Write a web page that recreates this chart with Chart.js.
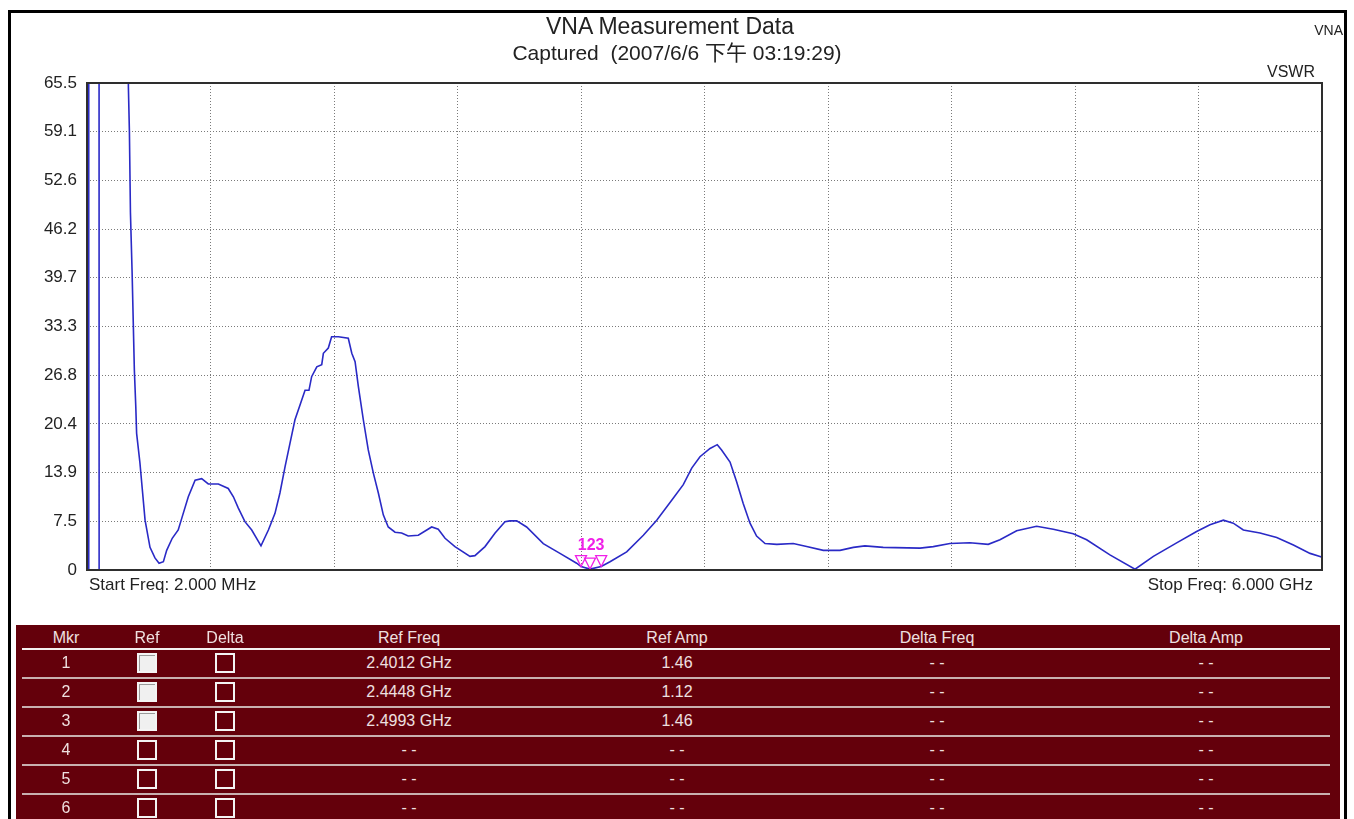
<!DOCTYPE html>
<html>
<head>
<meta charset="utf-8">
<script src="https://cdn.jsdelivr.net/npm/chart.js@4.4.1/dist/chart.umd.min.js"></script>
<style>
  html, body { margin: 0; padding: 0; background: #fff; width: 1354px; height: 819px; overflow: hidden; }
  body { position: relative; font-family: "Liberation Sans", Arial, "Noto Sans CJK TC", sans-serif; color: #222; }
  .abs { position: absolute; white-space: pre; line-height: 1; }
  #frame { position: absolute; left: 8px; top: 10px; width: 1333px; height: 830px; border: 3px solid #000; }
  #chartBox { position: absolute; left: 0; top: 0; width: 1354px; height: 600px; }
  #table { position: absolute; left: 16px; top: 625px; width: 1324px; height: 200px; background: #64000b; }
  .cell { position: absolute; color: #efe0e0; font-size: 16px; line-height: 1; transform: translate(-50%, -50%); white-space: pre; }
  .rule { position: absolute; left: 6px; width: 1308px; }
  .box { position: absolute; width: 16px; height: 16px; border: 2px solid #f4f4f4; transform: translate(-50%, -50%); }
  .box.on { background: #f0f0f0; box-shadow: inset 1px 1px 0 #9a9a9a; }
</style>
</head>
<body>
<div id="frame"></div>
<div id="chartBox"><canvas id="vnaChart" width="1354" height="600"></canvas></div>

<div class="abs" style="left:0;width:1340px;top:15px;text-align:center;font-size:23px;">VNA Measurement Data</div>
<div class="abs" style="left:0;width:1354px;top:42px;text-align:center;font-size:21px;">Captured  (2007/6/6 下午 03:19:29)</div>
<div class="abs" style="left:1243px;width:100px;top:23px;text-align:right;font-size:14px;">VNA</div>
<div class="abs" style="left:1215px;width:100px;top:64px;text-align:right;font-size:16px;">VSWR</div>
<div class="abs" style="left:89px;top:576px;font-size:17px;">Start Freq: 2.000 MHz</div>
<div class="abs" style="left:1013px;width:300px;top:576px;text-align:right;font-size:17px;">Stop Freq: 6.000 GHz</div>

<div id="table"></div>

<script>
// trace, frequency in GHz
const freqGHz = [
    0.002, 0.0095, 0.0105, 0.060, 0.061, 0.130, 0.200, 0.203, 0.208, 0.213, 0.221,
    0.227, 0.232, 0.239, 0.243, 0.259, 0.284, 0.308, 0.332, 0.352, 0.373,
    0.389, 0.416, 0.445, 0.465, 0.494, 0.527, 0.559, 0.591, 0.640, 0.688,
    0.713, 0.737, 0.769, 0.802, 0.847, 0.883, 0.915, 0.939, 0.964, 0.988,
    1.012, 1.037, 1.061, 1.080, 1.093, 1.118, 1.142, 1.150, 1.174, 1.190,
    1.223, 1.271, 1.288, 1.304, 1.320, 1.344, 1.368, 1.393, 1.417, 1.441,
    1.465, 1.498, 1.530, 1.562, 1.611, 1.676, 1.708, 1.741, 1.789, 1.862,
    1.886, 1.935, 1.984, 2.032, 2.056, 2.089, 2.137, 2.218, 2.299, 2.380,
    2.4012, 2.4448, 2.4993, 2.542, 2.623, 2.704, 2.769, 2.849, 2.898, 2.939,
    2.979, 3.028, 3.063, 3.084, 3.125, 3.157, 3.189, 3.222, 3.254, 3.295,
    3.352, 3.432, 3.497, 3.578, 3.659, 3.724, 3.780, 3.869, 4.048, 4.112,
    4.193, 4.290, 4.379, 4.436, 4.517, 4.614, 4.695, 4.792, 4.857, 4.970,
    5.092, 5.181, 5.294, 5.391, 5.456, 5.521, 5.569, 5.618, 5.699, 5.780,
    5.861, 5.942, 5.990, 6.000
];
const vswr = [
    -20, -20, 200, 200, -20, null, 200, 65.0, 59.0, 48.3, 40.5,
    33.4, 27.5, 22.6, 19.1, 15.2, 7.6, 4.0, 2.6, 1.9, 2.1,
    3.6, 5.2, 6.3, 8.1, 10.7, 12.9, 13.1, 12.4, 12.4, 11.8,
    10.7, 9.2, 7.4, 6.3, 4.2, 6.3, 8.5, 11.2, 14.7, 17.8,
    20.9, 22.9, 24.8, 24.8, 26.6, 27.9, 28.2, 29.7, 30.4, 31.9,
    31.9, 31.7, 29.7, 28.6, 25.3, 20.9, 16.9, 13.8, 11.2, 8.3,
    6.7, 6.0, 5.9, 5.5, 5.6, 6.7, 6.4, 5.2, 4.1, 2.8,
    2.9, 4.1, 5.9, 7.4, 7.5, 7.5, 6.7, 4.5, 3.2, 1.9,
    1.46, 1.12, 1.46, 2.1, 3.4, 5.6, 7.6, 10.5, 12.3, 14.5,
    16.0, 17.1, 17.6, 16.9, 15.3, 12.7, 9.8, 7.2, 5.5, 4.5,
    4.4, 4.5, 4.1, 3.6, 3.6, 4.0, 4.2, 4.0, 3.9, 4.1,
    4.5, 4.6, 4.4, 5.0, 6.2, 6.8, 6.4, 5.8, 5.0, 3.0,
    1.1, 2.8, 4.6, 6.1, 7.0, 7.6, 7.2, 6.3, 5.9, 5.3,
    4.3, 3.2, 2.8, 2.7
];

const yTickLabels = ["0", "7.5", "13.9", "20.4", "26.8", "33.3", "39.7", "46.2", "52.6", "59.1", "65.5"];
const yMin = 1.0, yMax = 65.5;
const xStart = 0.002, xStop = 6.0;

// marker table
const mkrNums = ["1", "2", "3", "4", "5", "6"];
const refOn = [true, true, true, false, false, false];
const refFreq = ["2.4012 GHz", "2.4448 GHz", "2.4993 GHz", "- -", "- -", "- -"];
const refAmp = ["1.46", "1.12", "1.46", "- -", "- -", "- -"];
const deltaFreq = ["- -", "- -", "- -", "- -", "- -", "- -"];
const deltaAmp = ["- -", "- -", "- -", "- -", "- -", "- -"];
const markerFreqGHz = [2.4012, 2.4448, 2.4993];
const markerAmp = [1.46, 1.12, 1.46];
const headers = ["Mkr", "Ref", "Delta", "Ref Freq", "Ref Amp", "Delta Freq", "Delta Amp"];

const points = freqGHz.map((f, i) => ({ x: f, y: vswr[i] }));

const evenTicks = (lo, hi) => (scale) => {
    scale.ticks = [];
    for (let k = 0; k <= 10; k++) scale.ticks.push({ value: lo + (hi - lo) * k / 10 });
};

const framePlugin = {
    id: "frame",
    afterDatasetsDraw(chart) {
        const { ctx, chartArea: a, scales } = chart;
        ctx.save();
        // markers
        ctx.strokeStyle = "#f020e8";
        ctx.fillStyle = "#f020e8";
        ctx.lineWidth = 1.3;
        const pys = markerAmp.map((v) => scales.y.getPixelForValue(v));
        const pxs = markerFreqGHz.map((f) => scales.x.getPixelForValue(f));
        pxs.forEach((px, i) => {
            const py = pys[i];
            ctx.beginPath();
            ctx.moveTo(px - 5.5, py - 11);
            ctx.lineTo(px + 5.5, py - 11);
            ctx.lineTo(px, py);
            ctx.closePath();
            ctx.stroke();
        });
        ctx.font = "bold 16px 'Liberation Sans', Arial, sans-serif";
        ctx.textAlign = "center";
        ctx.fillText(mkrNums.slice(0, markerFreqGHz.length).join(""),
            (pxs[0] + pxs[pxs.length - 1]) / 2, Math.min(...pys) - 17);
        // plot frame
        ctx.strokeStyle = "#2e2e2e";
        ctx.lineWidth = 2;
        ctx.strokeRect(a.left, a.top, a.right - a.left, a.bottom - a.top);
        ctx.restore();
    },
};

new Chart(document.getElementById("vnaChart"), {
    type: "line",
    data: {
        datasets: [
            {
                data: points,
                borderColor: "#2a2ac6",
                borderWidth: 1.6,
                pointRadius: 0,
                tension: 0,
                spanGaps: false,
                clip: 0,
            },
        ],
    },
    options: {
        responsive: false,
        animation: false,
        devicePixelRatio: 1,
        layout: { padding: { top: 83, right: 32, bottom: 30, left: 0 } },
        plugins: { legend: { display: false }, tooltip: { enabled: false } },
        scales: {
            x: {
                type: "linear",
                min: xStart,
                max: xStop,
                afterBuildTicks: evenTicks(xStart, xStop),
                afterFit: (s) => { s.height = 0; },
                ticks: { display: false },
                grid: { color: "#7a7a7a", lineWidth: 1, drawTicks: false },
                border: { display: false, dash: [1, 2] },
            },
            y: {
                min: yMin,
                max: yMax,
                afterBuildTicks: evenTicks(yMin, yMax),
                afterFit: (s) => { s.width = 87; },
                ticks: {
                    padding: 10,
                    color: "#222",
                    font: { family: "'Liberation Sans', Arial, sans-serif", size: 17 },
                    callback: (v, i) => yTickLabels[i],
                },
                grid: { color: "#7a7a7a", lineWidth: 1, drawTicks: false },
                border: { display: false, dash: [1, 2] },
            },
        },
    },
    plugins: [framePlugin],
});

// marker table
const colX = [50, 131, 209, 393, 661, 921, 1190];
const rowY0 = 38, rowStep = 29;
const table = document.getElementById("table");
const add = (cls, txt, x, y) => {
    const d = document.createElement("div");
    d.className = cls;
    if (txt !== null) d.textContent = txt;
    d.style.left = x + "px";
    d.style.top = y + "px";
    table.appendChild(d);
    return d;
};
headers.forEach((h, c) => add("cell", h, colX[c], 13));
const hr = add("rule", null, 6, 23);
hr.style.height = "2px"; hr.style.background = "#f4f0f0";
mkrNums.forEach((m, r) => {
    const y = rowY0 + r * rowStep;
    add("cell", m, colX[0], y);
    add("box" + (refOn[r] ? " on" : ""), null, colX[1], y);
    add("box", null, colX[2], y);
    add("cell", refFreq[r], colX[3], y);
    add("cell", refAmp[r], colX[4], y);
    add("cell", deltaFreq[r], colX[5], y);
    add("cell", deltaAmp[r], colX[6], y);
    if (r < mkrNums.length - 1) {
        const ln = add("rule", null, 6, y + 14);
        ln.style.height = "2px"; ln.style.background = "#c8b0b0";
    }
});
</script>
</body>
</html>
